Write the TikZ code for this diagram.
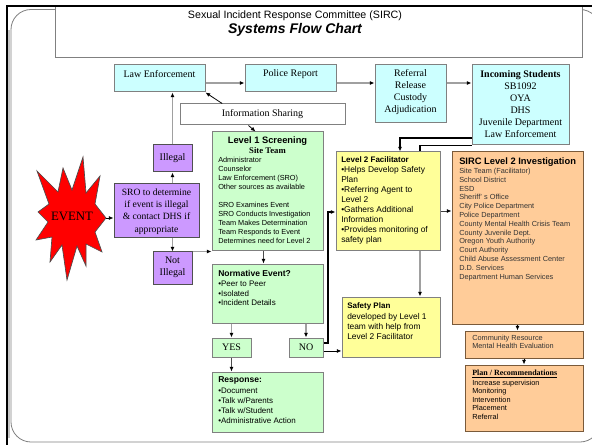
\documentclass[tikz,border=0pt]{standalone}
\usepackage{fontspec}
\setmainfont{Liberation Serif}
\setsansfont{Liberation Sans}
\usetikzlibrary{arrows.meta}
\definecolor{cyanfill}{HTML}{CCFFFF}
\definecolor{greenfill}{HTML}{CCFFCC}
\definecolor{purplefill}{HTML}{CC99FF}
\definecolor{yellowfill}{HTML}{FFFF99}
\definecolor{orangefill}{HTML}{FFCC99}
\definecolor{bordgray}{HTML}{808080}
\definecolor{linegray}{HTML}{A0A0A0}
\definecolor{bordbrown}{HTML}{7A5A3A}
\definecolor{bordpurple}{HTML}{505050}
\definecolor{txtgray}{HTML}{333333}
\newcommand\mkbox[6]{\node[#1, minimum width={(#4-#2)*0.75pt}, minimum height={(#5-#3)*0.75pt}, inner sep=0pt] (#6) at ({(#2+#4)/2},{(#3+#5)/2}) {};}
\newcommand\myfs[2]{\fontsize{#1}{#2}\selectfont}
\begin{document}
\begin{tikzpicture}[x=0.75pt,y=-0.75pt,
  cbox/.style={draw=bordgray, fill=cyanfill, line width=0.75pt},
  gbox/.style={draw=bordgray, fill=greenfill, line width=0.75pt},
  pbox/.style={draw=bordpurple, fill=purplefill, line width=0.75pt},
  ybox/.style={draw=bordgray, fill=yellowfill, line width=0.75pt},
  obox/.style={draw=bordbrown, fill=orangefill, line width=0.75pt},
  wbox/.style={draw=bordgray, fill=white, line width=0.75pt},
  tip/.style={-{Latex[length=3.5pt,width=3pt,color=black]}},
  gconn/.style={draw=linegray, line width=1.2pt, tip},
  bconn/.style={draw=black, line width=0.6pt, tip},
  serift/.style={font=\rmfamily\myfs{7.5}{9}, align=center, inner sep=0pt},
  head/.style={font=\sffamily\bfseries\myfs{#1}{#1}, inner sep=0pt, anchor=north west},
  head/.default=6.4,
  slist/.style 2 args={font=\sffamily\myfs{#1}{#2}, align=left, inner sep=0pt, anchor=north west},
]
\useasboundingbox (0,0) rectangle (592,445);
\fill[white] (0,0) rectangle (592,445);
% frame
\draw[gray!45, line width=1.5pt] (9,30) -- (9,438);
\draw[bordgray, line width=0.6pt, rounded corners=15pt] (11,9.5) rectangle (600,442);
\mkbox{wbox}{55}{6}{582}{58}{title}
\draw[black, line width=1.6pt] (7,445) -- (7,6) -- (592,6);
\node[font=\sffamily\myfs{8}{9.6}, inner sep=0pt] (t1) at (295,15.5) {Sexual Incident Response Committee (SIRC)};
\node[font=\sffamily\bfseries\itshape\myfs{10.5}{12}, inner sep=0pt] (t2) at (295,29.5) {Systems Flow Chart};

% top row
\mkbox{cbox}{114}{65}{205}{92}{le}
\node[serift] (letxt) at (159.5,74) {Law Enforcement};
\mkbox{cbox}{245}{65}{336}{92}{pr}
\node[serift] (prtxt) at (290.5,74) {Police Report};
\mkbox{cbox}{375}{65}{446}{123}{ref}
\node[serift] (reftxt) at (410.5,92) {Referral\\Release\\Custody\\Adjudication};
\mkbox{cbox}{472}{65}{569}{145}{inc}
\node[serift] (inctxt) at (520.5,104) {\textbf{Incoming Students}\\SB1092\\OYA\\DHS\\Juvenile Department\\Law Enforcement};
\mkbox{wbox}{180}{104}{345}{125}{info}
\node[serift] (infotxt) at (262.5,114.5) {Information Sharing};

% purple
\mkbox{pbox}{153}{145}{192}{172}{ill}
\node[serift] (illtxt) at (172.5,158.5) {Illegal};
\mkbox{pbox}{114}{184}{199}{238}{sro}
\node[serift, font=\rmfamily\myfs{7.2}{9.2}] (srotxt) at (156.5,211.5) {SRO to determine\\if event is illegal\\\& contact DHS if\\appropriate};
\mkbox{pbox}{153}{252}{192}{284}{nill}
\node[serift] (nilltxt) at (172.5,267.5) {Not\\Illegal};

% star
\filldraw[fill=red, draw=black!70, line width=0.5pt]
  (83,157) -- (86,193) -- (100,176) -- (95,204) -- (106,218) -- (95,232)
  -- (102,252) -- (86,244) -- (86,266) -- (77,246) -- (67,280) -- (62,245)
  -- (50,262) -- (52,237) -- (36,240) -- (48,222) -- (38,212) -- (49,204)
  -- (37,171) -- (58,192) -- (63,168) -- (72,190) -- cycle;
\node[font=\rmfamily\myfs{9.6}{11}, inner sep=0pt] (event) at (72,216) {EVENT};
\coordinate (evr) at (106,218);

% green
\mkbox{gbox}{212}{132}{323}{251}{l1}
\node[font=\sffamily\bfseries\myfs{7}{8}, inner sep=0pt] (l1h) at (267.5,141) {Level 1 Screening};
\node[font=\rmfamily\bfseries\myfs{6.5}{7}, inner sep=0pt] (l1s) at (267.5,151) {Site Team};
\node[slist={5.5}{6.75}] (l1l) at (218,157) {Administrator\\Counselor\\Law Enforcement (SRO)\\Other sources as available\\[6.75pt]SRO Examines Event\\SRO Conducts Investigation\\Team Makes Determination\\Team Responds to Event\\Determines need for Level 2};
\mkbox{gbox}{212}{264}{323}{323}{norm}
\node[head] (normh) at (218,270.5) {Normative Event?};
\node[slist={6}{7.1}] (norml) at (218,281) {\textbullet Peer to Peer\\\textbullet Isolated\\\textbullet Incident Details};
\mkbox{gbox}{212}{338}{251}{357}{yes}
\node[serift] (yestxt) at (231.5,347.5) {YES};
\mkbox{gbox}{289}{338}{323}{357}{no}
\node[serift] (notxt) at (306,347.5) {NO};
\mkbox{gbox}{212}{372}{323}{432}{resp}
\node[head] (resph) at (218,376.5) {Response:};
\node[slist={6}{7.5}] (respl) at (218,388) {\textbullet Document\\\textbullet Talk w/Parents\\\textbullet Talk w/Student\\\textbullet Administrative Action};

% yellow
\mkbox{ybox}{336}{152}{440}{251}{l2f}
\node[head=6] (l2fh) at (341,156.5) {Level 2 Facilitator};
\node[slist={6.3}{7.5}] (l2fl) at (341,166) {\textbullet Helps Develop Safety\\Plan\\\textbullet Referring Agent to\\Level 2\\\textbullet Gathers Additional\\Information\\\textbullet Provides monitoring of\\safety plan};
\mkbox{ybox}{342}{297}{440}{357}{sp}
\node[head=6] (sph) at (347,302.5) {Safety Plan};
\node[slist={6.3}{7.5}] (spl) at (347,313) {developed by Level 1\\team with help from\\Level 2 Facilitator};

% orange
\mkbox{obox}{452}{152}{583}{324}{sirc}
\node[head=7] (sirch) at (459,157) {SIRC Level 2 Investigation};
\node[slist={5.5}{6.6}, text=txtgray] (sircl) at (459,168) {Site Team (Facilitator)\\School District\\ESD\\Sheriff' s Office\\City Police Department\\Police Department\\County Mental Health Crisis Team\\County Juvenile Dept.\\Oregon Youth Authority\\Court Authority\\Child Abuse Assessment Center\\D.D. Services\\Department Human Services};
\mkbox{obox}{465}{331}{583}{358}{comm}
\node[slist={5.5}{6.2}, text=txtgray] (comml) at (472,334.5) {Community Resource\\Mental Health Evaluation};
\mkbox{obox}{465}{365}{583}{431}{plan}
\node[font=\rmfamily\bfseries\myfs{6}{7}, inner sep=0pt, anchor=north west] (planh) at (472,369.5) {\underline{Plan / Recommendations}};
\node[slist={5.5}{6.4}, text=black] (planl) at (472,379.5) {Increase supervision\\Monitoring\\Intervention\\Placement\\Referral};

% connectors
\coordinate (rowy) at (0,83);
\draw[gconn] (le.east |- rowy) -- (pr.west |- rowy);
\draw[gconn] (pr.east |- rowy) -- (ref.west |- rowy);
\draw[gconn] (ref.east |- rowy) -- (inc.west |- rowy);
\draw[gconn] (ill.north) -- (ill.north |- le.south);
\draw[bconn] ([xshift=32pt]info.north west) -- (le.south east);
\draw[bconn] ([xshift=51.75pt]info.south west) -- ([xshift=33pt]l1.north west);
\draw[gconn] (ill.south |- sro.north) -- (ill.south);
\draw[gconn] (nill.north |- sro.south) -- (nill.north);
\draw[bconn] (evr) -- (evr -| sro.west);
\draw[gconn] (nill.north east) -- (l1.south west);
\draw[bconn, draw=black!70] ([xshift=39pt]l1.south west) -- ([xshift=39pt]norm.north west);
\draw[gconn] (yes.north |- norm.south) -- (yes.north);
\draw[gconn] (no.north |- norm.south) -- (no.north);
\draw[bconn, draw=black!70] (yes.south) -- (yes.south |- resp.north);
\draw[bconn] ([yshift=-2.6pt]no.east) -- ([yshift=-2.6pt]no.east -| sp.west);
\coordinate (nojog) at (328,212);
\draw[bconn, line width=0.8pt] ([yshift=3.4pt]no.east) -| (nojog) -- (nojog -| l2f.west);
\coordinate (l2y) at (0,211);
\draw[bconn, draw=black!75] (l2f.east |- l2y) -- (sirc.west |- l2y);
\coordinate (colx) at (420,0);
\draw[gconn, line width=1.5pt] (l2f.south -| colx) -- (sp.north -| colx);
\coordinate (incA) at (400,138);
\draw[bconn, line width=0.8pt] (inc.west |- incA) -| (l2f.north -| incA);
\draw[black, line width=0.8pt] (inc.south west) -| (l2f.north -| colx);
\draw[bconn] (sirc.south) -- (sirc.south |- comm.north);
\draw[bconn] (comm.south) -- (comm.south |- plan.north);
\end{tikzpicture}
\end{document}
